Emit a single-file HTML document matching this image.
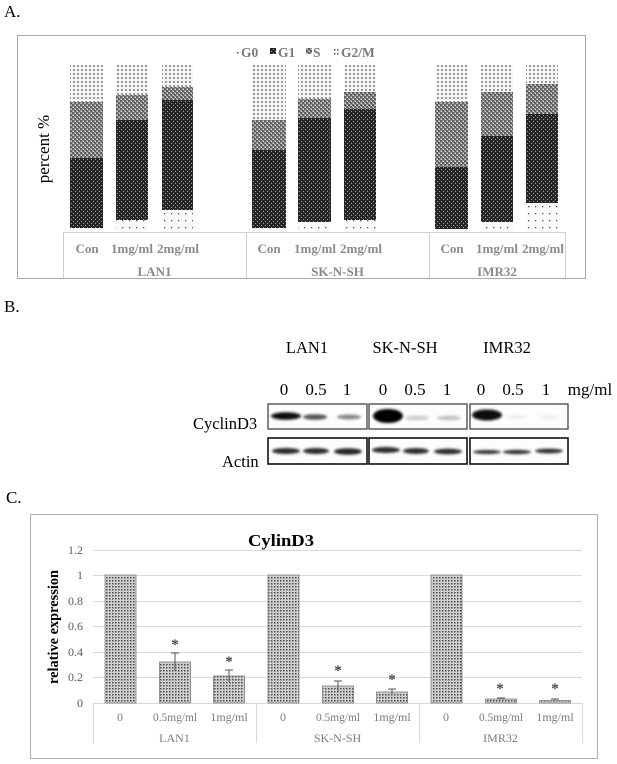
<!DOCTYPE html>
<html><head><meta charset="utf-8"><style>
html,body{margin:0;padding:0;background:#fff;}
svg{display:block;}
text{font-family:"Liberation Serif",serif;}
</style></head><body>
<svg width="617" height="764" viewBox="0 0 617 764" xmlns="http://www.w3.org/2000/svg">
<defs>
<pattern id="pG2" width="4" height="4" patternUnits="userSpaceOnUse">
<rect width="4" height="4" fill="#f6f6f6"/><rect x="1.3" y="1.3" width="1.4" height="1.4" fill="#3a3a3a"/>
</pattern>
<pattern id="pS" width="4" height="4" patternUnits="userSpaceOnUse">
<rect width="4" height="4" fill="#9a9a9a"/><rect x="0" y="0" width="2" height="2" fill="#5e5e5e"/><rect x="2" y="2" width="2" height="2" fill="#5e5e5e"/><rect x="3" y="1" width="1" height="1" fill="#d8d8d8"/><rect x="1" y="3" width="1" height="1" fill="#d8d8d8"/>
</pattern>
<pattern id="pG1" width="4" height="4" patternUnits="userSpaceOnUse">
<rect width="4" height="4" fill="#262626"/><rect x="1" y="1" width="1" height="1" fill="#a0a0a0"/><rect x="3" y="3" width="1" height="1" fill="#a0a0a0"/>
</pattern>
<pattern id="pG0" width="7" height="7" patternUnits="userSpaceOnUse">
<rect width="7" height="7" fill="#fafafa"/><rect x="3" y="3" width="1.3" height="1.3" fill="#555"/>
</pattern>
<pattern id="pC" width="3" height="3" patternUnits="userSpaceOnUse">
<rect width="3" height="3" fill="#d0d0d0"/><rect x="1" y="1" width="1.5" height="1.5" fill="#4a4a4a"/>
</pattern>
<filter id="bl" x="-20%" y="-50%" width="140%" height="200%"><feGaussianBlur stdDeviation="1.2"/></filter>
</defs>

<!-- ============ PANEL A ============ -->
<text x="4" y="17" font-size="17">A.</text>
<rect x="17.5" y="35.5" width="568" height="243" fill="none" stroke="#a8a8a8" stroke-width="1"/>

<!-- legend -->
<g font-size="13.5" font-weight="bold" fill="#7a7a7a">
<rect x="237" y="52" width="1.5" height="1.5" fill="#555"/>
<text x="241" y="57">G0</text>
<rect x="270" y="48" width="6" height="6" fill="url(#pG1)"/>
<text x="278" y="57">G1</text>
<rect x="306" y="48" width="6" height="6" fill="url(#pS)"/>
<text x="313" y="57">S</text>
<rect x="334" y="49" width="1.5" height="1.5" fill="#555"/><rect x="334" y="53" width="1.5" height="1.5" fill="#555"/>
<rect x="337" y="49" width="1.5" height="1.5" fill="#555"/><rect x="337" y="53" width="1.5" height="1.5" fill="#555"/>
<text x="341" y="57">G2/M</text>
</g>

<text transform="translate(49,149) rotate(-90)" font-size="17" text-anchor="middle">percent %</text>

<!-- stacked bars -->
<g>
<rect x="70" y="65" width="33" height="37" fill="url(#pG2)"/><rect x="70" y="102" width="33" height="56" fill="url(#pS)"/><rect x="70" y="158" width="33" height="70" fill="url(#pG1)"/><rect x="70" y="228" width="33" height="3" fill="url(#pG0)"/>
<rect x="116" y="65" width="32" height="30" fill="url(#pG2)"/><rect x="116" y="95" width="32" height="25" fill="url(#pS)"/><rect x="116" y="120" width="32" height="100" fill="url(#pG1)"/><rect x="116" y="220" width="32" height="11" fill="url(#pG0)"/>
<rect x="162" y="65" width="31" height="22" fill="url(#pG2)"/><rect x="162" y="87" width="31" height="13" fill="url(#pS)"/><rect x="162" y="100" width="31" height="110" fill="url(#pG1)"/><rect x="162" y="210" width="31" height="21" fill="url(#pG0)"/>
<rect x="252" y="65" width="34" height="55" fill="url(#pG2)"/><rect x="252" y="120" width="34" height="30" fill="url(#pS)"/><rect x="252" y="150" width="34" height="78" fill="url(#pG1)"/><rect x="252" y="228" width="34" height="3" fill="url(#pG0)"/>
<rect x="298" y="65" width="33" height="34" fill="url(#pG2)"/><rect x="298" y="99" width="33" height="19" fill="url(#pS)"/><rect x="298" y="118" width="33" height="104" fill="url(#pG1)"/><rect x="298" y="222" width="33" height="9" fill="url(#pG0)"/>
<rect x="344" y="65" width="32" height="27" fill="url(#pG2)"/><rect x="344" y="92" width="32" height="17" fill="url(#pS)"/><rect x="344" y="109" width="32" height="111" fill="url(#pG1)"/><rect x="344" y="220" width="32" height="11" fill="url(#pG0)"/>
<rect x="435" y="65" width="33" height="37" fill="url(#pG2)"/><rect x="435" y="102" width="33" height="65" fill="url(#pS)"/><rect x="435" y="167" width="33" height="62" fill="url(#pG1)"/><rect x="435" y="229" width="33" height="2" fill="url(#pG0)"/>
<rect x="481" y="65" width="32" height="27" fill="url(#pG2)"/><rect x="481" y="92" width="32" height="44" fill="url(#pS)"/><rect x="481" y="136" width="32" height="86" fill="url(#pG1)"/><rect x="481" y="222" width="32" height="9" fill="url(#pG0)"/>
<rect x="526" y="65" width="32" height="19" fill="url(#pG2)"/><rect x="526" y="84" width="32" height="30" fill="url(#pS)"/><rect x="526" y="114" width="32" height="89" fill="url(#pG1)"/><rect x="526" y="203" width="32" height="28" fill="url(#pG0)"/>
</g>

<!-- category axis -->
<g stroke="#cfcfcf" stroke-width="1">
<line x1="63" y1="232.5" x2="565" y2="232.5"/>
<line x1="63.5" y1="232" x2="63.5" y2="278"/>
<line x1="246.5" y1="232" x2="246.5" y2="278"/>
<line x1="429.5" y1="232" x2="429.5" y2="278"/>
<line x1="565.5" y1="232" x2="565.5" y2="278"/>
</g>
<g font-size="13" font-weight="bold" fill="#8a8a8a" text-anchor="middle">
<text x="87" y="253">Con</text><text x="132" y="253">1mg/ml</text><text x="178" y="253">2mg/ml</text>
<text x="269" y="253">Con</text><text x="315" y="253">1mg/ml</text><text x="361" y="253">2mg/ml</text>
<text x="452" y="253">Con</text><text x="497" y="253">1mg/ml</text><text x="543" y="253">2mg/ml</text>
<text x="154.5" y="276">LAN1</text><text x="337.5" y="276">SK-N-SH</text><text x="497" y="276">IMR32</text>
</g>

<!-- ============ PANEL B ============ -->
<text x="4" y="312" font-size="17">B.</text>
<g font-size="16.5" text-anchor="middle">
<text x="307" y="353">LAN1</text><text x="405" y="353">SK-N-SH</text><text x="507" y="353">IMR32</text>
</g>
<g font-size="17" text-anchor="middle">
<text x="284" y="395">0</text><text x="316" y="395">0.5</text><text x="347" y="395">1</text>
<text x="383" y="395">0</text><text x="415" y="395">0.5</text><text x="447" y="395">1</text>
<text x="481" y="395">0</text><text x="513" y="395">0.5</text><text x="546" y="395">1</text>
<text x="590" y="395">mg/ml</text>
</g>
<text x="193" y="429" font-size="16.5">CyclinD3</text>
<text x="222" y="467" font-size="16.5">Actin</text>

<g fill="#fdfdfd" stroke="#444" stroke-width="1.3">
<rect x="268" y="404" width="99" height="25"/>
<rect x="369" y="404" width="98" height="25"/>
<rect x="470" y="404" width="98" height="25"/>
</g>
<g fill="#fdfdfd" stroke="#111" stroke-width="1.6">
<rect x="268" y="438" width="99" height="26"/>
<rect x="369" y="438" width="98" height="26"/>
<rect x="470" y="438" width="98" height="26"/>
</g>
<g filter="url(#bl)">
<ellipse cx="286" cy="416" rx="15" ry="3.8" fill="#111"/>
<ellipse cx="315" cy="417" rx="12" ry="2.8" fill="#555"/>
<ellipse cx="349" cy="417" rx="12" ry="2.5" fill="#888"/>
<ellipse cx="388" cy="416" rx="15" ry="7" fill="#050505"/>
<ellipse cx="417" cy="418" rx="12" ry="2.5" fill="#cfcfcf"/>
<ellipse cx="449" cy="418" rx="12" ry="2.5" fill="#c4c4c4"/>
<ellipse cx="487" cy="415" rx="15" ry="5.5" fill="#080808"/>
<ellipse cx="517" cy="417" rx="10" ry="2" fill="#eeeeee"/>
<ellipse cx="549" cy="417" rx="10" ry="2" fill="#efefef"/>
</g>
<g filter="url(#bl)">
<ellipse cx="286" cy="451" rx="14" ry="3" fill="#2a2a2a"/>
<ellipse cx="316" cy="451" rx="13" ry="3" fill="#2a2a2a"/>
<ellipse cx="348" cy="451.5" rx="14" ry="3.3" fill="#262626"/>
<ellipse cx="386" cy="450" rx="14" ry="3" fill="#2a2a2a"/>
<ellipse cx="416" cy="451" rx="13" ry="3" fill="#2e2e2e"/>
<ellipse cx="448" cy="451.5" rx="14" ry="2.8" fill="#2e2e2e"/>
<ellipse cx="487" cy="452" rx="14" ry="2" fill="#333"/>
<ellipse cx="517" cy="452" rx="14" ry="2.2" fill="#333"/>
<ellipse cx="549" cy="451" rx="14" ry="2.4" fill="#333"/>
</g>

<!-- ============ PANEL C ============ -->
<text x="6" y="503" font-size="17">C.</text>
<rect x="30.5" y="514.5" width="567" height="244" fill="none" stroke="#b0b0b0" stroke-width="1"/>
<text x="248" y="546" font-size="16.5" font-weight="bold" textLength="66" lengthAdjust="spacingAndGlyphs">CylinD3</text>

<g stroke="#d9d9d9" stroke-width="1">
<line x1="93" y1="550.5" x2="582" y2="550.5"/>
<line x1="93" y1="575.5" x2="582" y2="575.5"/>
<line x1="93" y1="601.5" x2="582" y2="601.5"/>
<line x1="93" y1="626.5" x2="582" y2="626.5"/>
<line x1="93" y1="652.5" x2="582" y2="652.5"/>
<line x1="93" y1="677.5" x2="582" y2="677.5"/>
<line x1="93" y1="703.5" x2="582" y2="703.5"/>
</g>
<g font-size="12" fill="#595959" text-anchor="end">
<text x="83" y="554">1.2</text><text x="83" y="579">1</text><text x="83" y="605">0.8</text>
<text x="83" y="630">0.6</text><text x="83" y="656">0.4</text><text x="83" y="681">0.2</text><text x="83" y="707">0</text>
</g>
<text transform="translate(58,627) rotate(-90)" font-size="15" font-weight="bold" text-anchor="middle" textLength="114" lengthAdjust="spacingAndGlyphs">relative expression</text>

<g fill="url(#pC)" stroke="#808080" stroke-width="0.8">
<rect x="105" y="575" width="31" height="128"/>
<rect x="159.5" y="662" width="31" height="41"/>
<rect x="213.5" y="676" width="31" height="27"/>
<rect x="268" y="575" width="31" height="128"/>
<rect x="322.5" y="686" width="31" height="17"/>
<rect x="376.5" y="692" width="31" height="11"/>
<rect x="431" y="575" width="31" height="128"/>
<rect x="485.5" y="699" width="31" height="4"/>
<rect x="539.5" y="700.5" width="31" height="2.5"/>
</g>
<g stroke="#555" stroke-width="1">
<line x1="175" y1="671" x2="175" y2="653"/><line x1="171" y1="653" x2="179" y2="653"/>
<line x1="229" y1="682" x2="229" y2="670"/><line x1="225" y1="670" x2="233" y2="670"/>
<line x1="338" y1="691" x2="338" y2="681"/><line x1="334" y1="681" x2="342" y2="681"/>
<line x1="392" y1="694" x2="392" y2="689"/><line x1="388" y1="689" x2="396" y2="689"/>
<line x1="501" y1="699" x2="501" y2="698"/><line x1="497" y1="698" x2="505" y2="698"/>
<line x1="555" y1="700" x2="555" y2="699"/><line x1="551" y1="699" x2="559" y2="699"/>
</g>
<g font-size="15" fill="#444" text-anchor="middle" font-weight="bold">
<text x="175" y="649">*</text><text x="229" y="666">*</text>
<text x="338" y="675">*</text><text x="392" y="684">*</text>
<text x="500" y="693">*</text><text x="555" y="693">*</text>
</g>

<g stroke="#d9d9d9" stroke-width="1">
<line x1="93.5" y1="703" x2="93.5" y2="743"/>
<line x1="256.5" y1="703" x2="256.5" y2="743"/>
<line x1="419.5" y1="703" x2="419.5" y2="743"/>
<line x1="582.5" y1="703" x2="582.5" y2="743"/>
</g>
<g font-size="12" fill="#7a7a7a" text-anchor="middle">
<text x="120" y="721">0</text><text x="175" y="721" textLength="44" lengthAdjust="spacingAndGlyphs">0.5mg/ml</text><text x="229" y="721">1mg/ml</text>
<text x="283" y="721">0</text><text x="338" y="721" textLength="44" lengthAdjust="spacingAndGlyphs">0.5mg/ml</text><text x="392" y="721">1mg/ml</text>
<text x="446" y="721">0</text><text x="501" y="721" textLength="44" lengthAdjust="spacingAndGlyphs">0.5mg/ml</text><text x="555" y="721">1mg/ml</text>
<text x="174.5" y="742">LAN1</text><text x="337.5" y="742">SK-N-SH</text><text x="500.5" y="742">IMR32</text>
</g>
</svg>
</body></html>
